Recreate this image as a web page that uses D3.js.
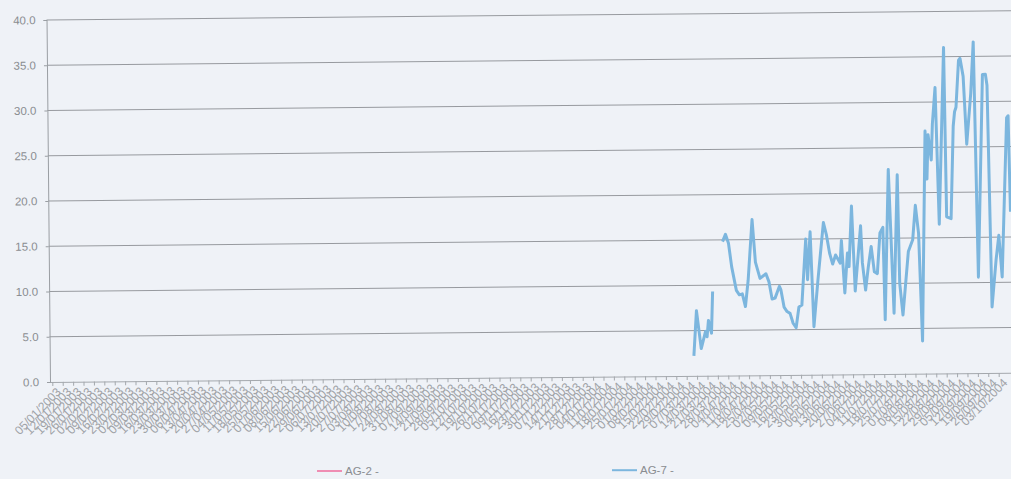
<!DOCTYPE html>
<html>
<head>
<meta charset="utf-8">
<script src="https://cdn.jsdelivr.net/npm/d3@7"></script>
<style>
  html, body { margin: 0; padding: 0; background: #eff2f7; }
  svg { display: block; }
  text { font-family: "Liberation Sans", Arial, sans-serif; }
</style>
</head>
<body>
<svg id="chart" width="1011" height="479"></svg>
<script>
// ---------------- data ----------------
const seriesNames = ["AG-2 -", "AG-7 -"];
const startDate = "2003-01-05";          // first category tick
const lastTickDate = "2004-10-03";       // last labelled tick visible
const yTicks = [0, 5, 10, 15, 20, 25, 30, 35, 40];

// AG-2: no readings visible in the picture
const ag2Day = [];
const ag2Values = [];

// AG-7: day offset from startDate and value (null = missing sample)
const ag7Day = [432, 434, 437, 440, 441, 442, 444, 445, 449, 452, 454, 456, 458, 461, 463, 465, 467, 469, 472, 474,
  477, 481, 483, 485, 487, 490, 491, 493, 495, 497, 499, 501, 503, 505, 508, 509, 511, 513, 516, 520,
  522, 524, 526, 528, 531, 532, 534, 536, 537, 539, 541, 545, 546, 548, 550, 552, 554, 556, 558, 560,
  561, 564, 567, 570, 571, 573, 577, 580, 582, 584, 586, 589, 590, 591, 593, 594, 596, 598, 602, 603,
  606, 608, 609, 610, 612, 613, 615, 617, 620, 622, 624, 628, 630, 631, 633, 636, 638, 640, 644, 645, 646];
const ag7Values = [2.2, 7.2, 3.0, 4.9, 4.3, 6.1, 4.7, 9.3, null, 14.8, 15.6, 14.6, 12.0, 9.4, 8.9, 9.0, 7.6, 10.5, 17.2, 12.5,
  10.7, 11.2, 10.3, 8.4, 8.5, 9.8, 9.4, 7.5, 7.0, 6.8, 5.7, 5.2, 7.5, 7.7, 15.0, 10.5, 15.8, 5.3, 10.5, 16.8,
  15.4, 13.4, 12.2, 13.2, 12.3, 14.8, 9.0, 13.4, 11.9, 18.6, 9.2, 16.4, 12.3, 9.3, 11.9, 14.1, 11.3, 11.1, 15.6, 16.2,
  6.0, 22.6, 6.7, 22.0, 10.0, 6.5, 13.5, 14.8, 18.6, 15.5, 3.6, 26.8, 21.5, 26.4, 23.6, 27.6, 31.6, 16.5, 36.0, 17.3,
  17.1, 27.3, 28.9, 29.4, 34.6, 34.8, 32.8, 25.3, 30.9, 36.6, 10.6, 33.0, 33.0, 31.8, 7.3, 12.5, 15.2, 10.6, 28.2, 28.4, 17.8];

const colors = ["#ef8db3", "#7cb6de"];

// ---------------- layout ----------------
const svg = d3.select("#chart");
svg.append("rect").attr("width", 1011).attr("height", 479).attr("fill", "#eff2f7");

const W = 990, H = 362;
const DAY = 864e5;
const t0 = new Date(startDate + "T00:00:00Z");
const tEnd = new Date(lastTickDate + "T00:00:00Z");
const x = d3.scaleUtc()
  .domain([new Date(t0.getTime() - 1.55 * DAY), new Date(t0.getTime() + 664.8 * DAY)])
  .range([0, W]);
const y = d3.scaleLinear().domain([0, 40]).range([H, 0]);

// the scanned page is slightly rotated
const g = svg.append("g").attr("transform", "rotate(-0.55, 50, 382) translate(50,20)");

// gridlines
g.append("g").selectAll("line").data(yTicks.filter(v => v > 0)).join("line")
  .attr("x1", 0).attr("x2", W)
  .attr("y1", d => y(d)).attr("y2", d => y(d))
  .attr("stroke", "#979a9f").attr("stroke-width", 1);

// y axis
const yAxis = g.append("g").call(d3.axisLeft(y).tickValues(yTicks).tickFormat(d3.format(".1f")).tickSize(3).tickPadding(8));
yAxis.select(".domain").attr("stroke", "#9a9ea3");
yAxis.selectAll(".tick line").attr("stroke", "#9a9ea3");
yAxis.selectAll(".tick text").attr("fill", "#8a8d91").style("font-size", "11.5px");

// x axis: weekly ticks, all labelled
const weekTicks = d3.utcWeek.range(t0, new Date(tEnd.getTime() + DAY));
const xAxis = g.append("g").attr("transform", `translate(0,${H})`)
  .call(d3.axisBottom(x).tickValues(weekTicks).tickFormat(d3.utcFormat("%d/%m/%Y")).tickSize(4).tickSizeOuter(0));
xAxis.select(".domain").attr("stroke", "#a4a8ad");
xAxis.selectAll(".tick line").attr("stroke", "#a4a8ad");
xAxis.selectAll(".tick text")
  .attr("fill", "#a0a3a7")
  .style("font-size", "12px")
  .attr("text-anchor", "end")
  .attr("dy", "0.35em")
  .attr("transform", "translate(3,5) rotate(-45)")
  .attr("x", 0).attr("y", 4);

// series
const toPoints = (days, vals) => days.map((d, i) => ({ date: new Date(t0.getTime() + d * DAY), v: vals[i] }));
const line = d3.line().defined(d => d.v !== null).x(d => x(d.date)).y(d => y(d.v));

g.append("path").datum(toPoints(ag2Day, ag2Values))
  .attr("fill", "none").attr("stroke", colors[0]).attr("stroke-width", 2.8).attr("d", line);
g.append("path").datum(toPoints(ag7Day, ag7Values))
  .attr("fill", "none").attr("stroke", colors[1]).attr("stroke-width", 3)
  .attr("stroke-linejoin", "round").attr("d", line);

// legend
const legendX = [317, 612];
const lg = svg.append("g");
seriesNames.forEach((name, i) => {
  const item = lg.append("g").attr("transform", `translate(${legendX[i]},${471 - i * 0.8})`);
  item.append("line").attr("x1", 0).attr("x2", 25).attr("y1", 0).attr("y2", 0)
    .attr("stroke", colors[i]).attr("stroke-width", 2);
  item.append("text").attr("x", 28).attr("y", 4).attr("fill", "#8a8d91")
    .style("font-size", "11.5px").text(name);
});
</script>
</body>
</html>
